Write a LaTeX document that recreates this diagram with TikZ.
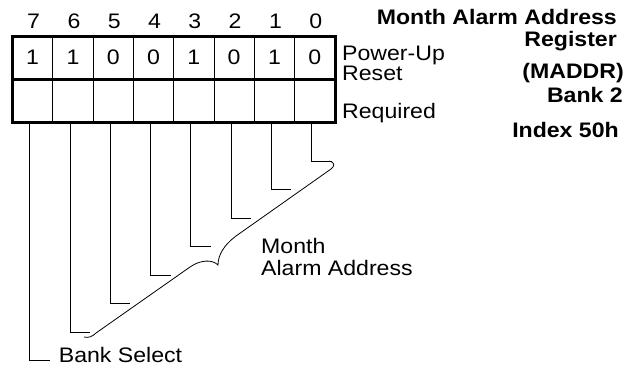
\documentclass[tikz,border=0pt]{standalone}
\usepackage{fontspec}
\setmainfont{Liberation Sans}[FakeStretch=1.1]
\usetikzlibrary{positioning}

\begin{document}
\begin{tikzpicture}[x=1pt, y=1pt,
  txt/.style={inner sep=0pt, font=\fontsize{21}{21}\selectfont},
  cell/.style={txt, draw, line width=0.8pt, minimum width=40.3pt,
               minimum height=42.25pt},
  lead/.style={line width=0.8pt},
  ttl/.style={inner sep=0pt, anchor=base east,
              font=\fontsize{21}{21}\selectfont\bfseries}]
  \useasboundingbox (0,0) rectangle (639,-375);
  % register cells, bit numbers and leader lines
  \foreach \bit/\val [count=\k from 0] in {7/1,6/1,5/0,4/0,3/1,2/0,1/1,0/0} {
    \node (v\bit) [cell] at ({12.5+40.3*(\k+0.5)}, -57.6) {\val};
    \node (r\bit) [cell, below=0pt of v\bit] {};
    \node (n\bit) [txt] at ({12.5+40.3*(\k+0.5)+1}, -21) {\bit};
    \coordinate (t\bit) at ({12.5+40.3*(\k+0.5)+17}, {-161-28.5*\bit});
    \draw[lead] ([xshift=-3pt]r\bit.south) |- (t\bit);
  }
  \draw[line width=3pt] (v7.north west) rectangle (r0.south east);
  \draw[line width=3pt] (v7.south west) -- (v0.south east);

  \node (pwr)  [txt, anchor=base west, align=left,
                font=\fontsize{21}{20}\selectfont] at (342,-80)
    {Power-Up\\Reset};
  \node (req)  [txt, anchor=base west] at (342,-118) {Required};
  \node (bank) [txt, anchor=base west] at ([xshift=9pt, yshift=-1.5pt]t7)
    {Bank Select};
  \node (mad)  [txt, anchor=base west, align=left,
                font=\fontsize{21}{22}\selectfont] at (261,-275)
    {Month\\Alarm Address};

  % brace over bits 6..0
  \draw[lead] (329,-161) .. controls (335,-162) and (335,-166) .. (331,-169)
    -- (236,-236) .. controls (224,-245) and (218,-255) .. (218,-265)
    .. controls (212,-259) and (200,-260) .. (190,-267)
    -- (96,-333) .. controls (92,-337) and (88,-338) .. (84,-337);

  % title
  \node (ttl1) [ttl] at (617,-24)  {Month Alarm Address};
  \node (ttl2) [ttl] at (617,-46)  {Register};
  \node (ttl3) [ttl] at (624,-78)  {(MADDR)};
  \node (ttl4) [ttl] at (623,-102) {Bank 2};
  \node (idx)  [ttl] at (619,-137) {Index 50h};
\end{tikzpicture}
\end{document}
